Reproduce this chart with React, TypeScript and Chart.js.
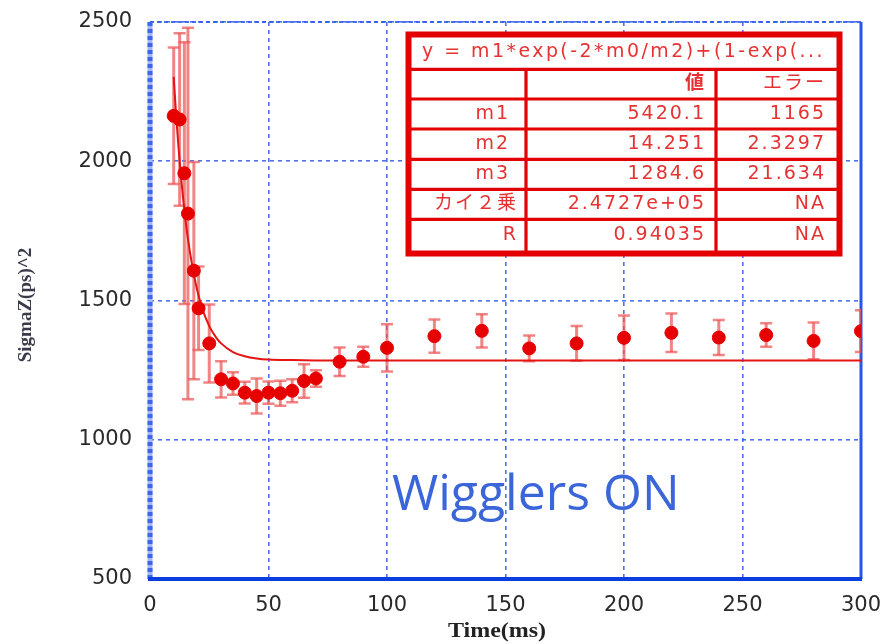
import React, { useEffect, useRef } from 'react';
import { Chart, registerables } from 'chart.js';

Chart.register(...registerables);

// ---- data ----
const pointX = [10, 12.5, 14.5, 16, 18.5, 20.5, 25, 30, 35, 40, 45, 50, 55, 60, 65, 70, 80, 90, 100, 120, 140, 160, 180, 200, 220, 240, 260, 280, 300];
const pointY = [2163, 2150, 1957, 1812, 1607, 1472, 1346, 1217, 1202, 1169, 1157, 1169, 1167, 1176, 1211, 1220, 1280, 1298, 1330, 1372, 1391, 1328, 1346, 1366, 1384, 1367, 1376, 1355, 1390];
const pointErr = [245, 310, 470, 667, 390, 150, 140, 65, 40, 39, 63, 40, 45, 41, 60, 30, 51, 36, 85, 60, 60, 46, 62, 80, 69, 63, 42, 66, 75];

const fitX = [10, 11, 12, 13, 14, 15, 16, 18, 20, 22, 25, 28, 30, 35, 40, 45, 50, 60, 70, 100, 150, 200, 250, 300];
const fitY = [2303, 2168, 2052, 1952, 1864, 1788, 1722, 1616, 1534, 1473, 1408, 1366, 1346, 1315, 1300, 1292, 1288, 1286, 1285, 1284.6, 1284.6, 1284.6, 1284.6, 1284.6];

const xTitle = 'Time(ms)';
const yTitle = 'SigmaZ(ps)^2';
const annotation = 'Wigglers ON';

const tableTitle = 'y = m1*exp(-2*m0/m2)+(1-exp(...';
const tableHeader = ['', '値', 'エラー'];
const tableNames = ['m1', 'm2', 'm3', 'カイ２乗', 'R'];
const tableValues = ['5420.1', '14.251', '1284.6', '2.4727e+05', '0.94035'];
const tableErrors = ['1165', '2.3297', '21.634', 'NA', 'NA'];

const GRID = 'rgba(45,90,232,0.85)';

const decorPlugin = {
  id: 'decor',
  beforeDatasetsDraw(chart: any) {
    const { ctx, chartArea: a, scales } = chart;
    const xs = scales.x;
    const ys = scales.y;
    ctx.save();
    // top dashed
    ctx.strokeStyle = GRID;
    ctx.lineWidth = 2;
    ctx.setLineDash([4, 3]);
    ctx.beginPath();
    ctx.moveTo(a.left, a.top);
    ctx.lineTo(a.right, a.top);
    ctx.stroke();
    // left thick dashed
    ctx.setLineDash([]);
    ctx.strokeStyle = '#a4b6f2';
    ctx.lineWidth = 5;
    ctx.beginPath();
    ctx.moveTo(a.left, a.top);
    ctx.lineTo(a.left, a.bottom);
    ctx.stroke();
    ctx.setLineDash([4, 3]);
    ctx.strokeStyle = '#3d66e8';
    ctx.beginPath();
    ctx.moveTo(a.left, a.top);
    ctx.lineTo(a.left, a.bottom);
    ctx.stroke();
    // right solid
    ctx.setLineDash([]);
    ctx.strokeStyle = '#2a55e6';
    ctx.lineWidth = 3;
    ctx.beginPath();
    ctx.moveTo(a.right, a.top);
    ctx.lineTo(a.right, a.bottom);
    ctx.stroke();
    // bottom solid
    ctx.strokeStyle = '#0a3ede';
    ctx.lineWidth = 4;
    ctx.beginPath();
    ctx.moveTo(a.left - 2, a.bottom);
    ctx.lineTo(a.right + 1, a.bottom);
    ctx.stroke();

    // error bars
    ctx.beginPath();
    ctx.rect(a.left, a.top, a.right - a.left, a.bottom - a.top);
    ctx.clip();
    ctx.strokeStyle = 'rgba(236,86,86,0.72)';
    for (let i = 0; i < pointX.length; i++) {
      const px = xs.getPixelForValue(pointX[i]);
      const yt = ys.getPixelForValue(pointY[i] + pointErr[i]);
      const yb = ys.getPixelForValue(pointY[i] - pointErr[i]);
      ctx.lineWidth = 3;
      ctx.beginPath();
      ctx.moveTo(px, yt);
      ctx.lineTo(px, yb);
      ctx.stroke();
      ctx.lineWidth = 2.5;
      ctx.beginPath();
      ctx.moveTo(px - 6, yt);
      ctx.lineTo(px + 6, yt);
      ctx.moveTo(px - 6, yb);
      ctx.lineTo(px + 6, yb);
      ctx.stroke();
    }
    ctx.restore();
  },
  afterDraw(chart: any) {
    const { ctx } = chart;
    ctx.save();

    // axis titles
    ctx.fillStyle = '#222';
    ctx.textAlign = 'center';
    ctx.textBaseline = 'middle';
    ctx.save();
    ctx.translate(497, 632);
    ctx.scale(1.2, 1);
    ctx.font = 'bold 20px "Liberation Serif"';
    ctx.fillText(xTitle, 0, 0);
    ctx.restore();
    ctx.save();
    ctx.translate(26, 305);
    ctx.rotate(-Math.PI / 2);
    ctx.font = 'bold 19px "Liberation Serif"';
    ctx.fillStyle = '#3a3a4a';
    ctx.fillText(yTitle, 0, 0);
    ctx.restore();

    // annotation
    ctx.fillStyle = '#3b66d9';
    ctx.font = '50px "Open Sans"';
    ctx.textAlign = 'left';
    ctx.textBaseline = 'alphabetic';
    ctx.fillText(annotation, 392, 510, 290);

    // table
    const L = 408.5, R = 839.5, T = 34.5, B = 253.5;
    const rowLines = [69.3, 99, 129, 159.3, 189.3, 219.3];
    const col1 = 526, col2 = 716;
    ctx.fillStyle = '#ffffff';
    ctx.fillRect(L, T, R - L, B - T);
    ctx.strokeStyle = '#e20000';
    ctx.lineWidth = 3.2;
    ctx.beginPath();
    for (const y of rowLines) {
      ctx.moveTo(L, y);
      ctx.lineTo(R, y);
    }
    ctx.moveTo(col1, rowLines[0]);
    ctx.lineTo(col1, B);
    ctx.moveTo(col2, rowLines[0]);
    ctx.lineTo(col2, B);
    ctx.stroke();
    ctx.lineWidth = 6;
    ctx.strokeRect(L, T, R - L, B - T);

    const f = '19px "DejaVu Sans", "Noto Sans CJK JP"';
    ctx.fillStyle = '#e63232';
    ctx.font = f;
    (ctx as any).letterSpacing = '2.5px';
    ctx.textBaseline = 'middle';
    ctx.textAlign = 'left';
    ctx.fillText(tableTitle, 422, 52, 403);
    (ctx as any).letterSpacing = '2px';
    ctx.textAlign = 'right';
    const centers = [84, 114, 144, 174, 204, 235];
    const rows = [tableHeader, ...tableNames.map((n, i) => [n, tableValues[i], tableErrors[i]])];
    rows.forEach((r, i) => {
      const cy = centers[i];
      ctx.font = f;
      if (r[0]) ctx.fillText(r[0], i >= 1 && i <= 3 ? 510 : 518, cy);
      ctx.font = (i === 0 ? 'bold ' : '') + f;
      ctx.fillText(r[1], 706, cy);
      ctx.font = f;
      ctx.fillText(r[2], 826, cy);
    });
    (ctx as any).letterSpacing = '0px';
    ctx.restore();
  },
};

export default function App() {
  const ref = useRef<HTMLCanvasElement | null>(null);
  useEffect(() => {
    if (!ref.current) return;
    const tickFont = { family: '"DejaVu Sans"', size: 21 };
    const chart = new Chart(ref.current, {
      type: 'scatter',
      data: {
        datasets: [
          {
            type: 'line',
            data: fitX.map((x, i) => ({ x, y: fitY[i] })),
            borderColor: '#e41414',
            borderWidth: 2,
            pointRadius: 0,
            cubicInterpolationMode: 'monotone',
            fill: false,
            order: 2,
          } as any,
          {
            type: 'scatter',
            data: pointX.map((x, i) => ({ x, y: pointY[i] })),
            backgroundColor: '#e60000',
            borderColor: '#e60000',
            pointRadius: 6.5,
            pointStyle: 'circle',
            order: 1,
          } as any,
        ],
      },
      options: {
        responsive: false,
        animation: false,
        events: [],
        layout: { padding: { top: 22, right: 19, left: 0, bottom: 0 } },
        plugins: { legend: { display: false }, tooltip: { enabled: false }, title: { display: false } },
        scales: {
          x: {
            type: 'linear',
            min: 0,
            max: 300,
            ticks: { stepSize: 50, font: tickFont, color: '#2a2a2a', padding: 14, maxRotation: 0, callback: (v: any) => String(v) },
            grid: { color: GRID, lineWidth: 1.6, drawTicks: false },
            border: { display: false, dash: [4, 4] },
            afterFit(s: any) { s.height = 65; s.paddingLeft = 0; s.paddingRight = 0; },
          },
          y: {
            type: 'linear',
            min: 500,
            max: 2500,
            ticks: { stepSize: 500, font: tickFont, color: '#2a2a2a', padding: 18, callback: (v: any) => String(v) },
            grid: { color: GRID, lineWidth: 1.6, drawTicks: false },
            border: { display: false, dash: [4, 4] },
            afterFit(s: any) { s.width = 150; s.paddingTop = 0; s.paddingBottom = 0; },
          },
        },
      },
      plugins: [decorPlugin],
    });
    return () => chart.destroy();
  }, []);
  return (
    <canvas
      ref={ref}
      width={880}
      height={644}
      style={{ position: 'fixed', left: 0, top: 0, width: 880, height: 644, display: 'block' }}
    />
  );
}
